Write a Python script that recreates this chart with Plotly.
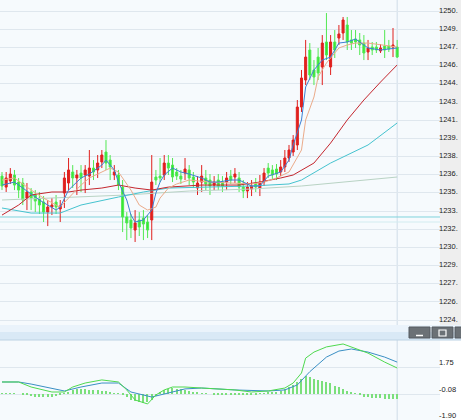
import plotly.graph_objects as go

# candles, left to right
opens = [1236.81, 1235.89, 1236.40, 1236.90, 1236.31, 1236.23, 1234.97, 1235.48, 1235.23, 1234.97,
         1234.64, 1233.80, 1234.22, 1234.64, 1234.06, 1235.39, 1236.23, 1237.15, 1236.65, 1237.06,
         1236.90, 1236.81, 1237.48, 1237.32, 1237.99, 1238.82, 1238.15, 1236.90, 1236.90, 1235.89,
         1233.39, 1233.14, 1232.30, 1233.14, 1233.30, 1232.97, 1233.14, 1236.73, 1236.81, 1236.90,
         1237.90, 1237.73, 1237.15, 1236.81, 1237.06, 1237.32, 1236.73, 1235.81, 1236.31, 1236.65,
         1236.48, 1236.06, 1236.48, 1236.31, 1236.31, 1236.81, 1236.73, 1236.65, 1235.89, 1235.56,
         1235.73, 1236.23, 1235.81, 1236.31, 1237.48, 1237.32, 1237.40, 1237.15, 1237.57, 1238.32,
         1238.82, 1239.41, 1242.58, 1244.84, 1247.35, 1245.68, 1246.76, 1245.93, 1248.02, 1245.93,
         1248.02, 1248.35, 1248.77, 1249.44, 1248.19, 1248.27, 1248.19, 1247.93, 1247.18, 1247.60,
         1247.60, 1247.27, 1247.68, 1247.68, 1247.60, 1247.60]
highs = [1237.15, 1237.15, 1237.48, 1237.32, 1236.65, 1236.65, 1236.23, 1235.81, 1235.64, 1235.48,
         1235.14, 1234.81, 1234.97, 1235.23, 1234.81, 1237.15, 1238.32, 1237.73, 1237.32, 1237.73,
         1237.73, 1238.99, 1238.15, 1238.57, 1238.99, 1239.82, 1238.57, 1237.73, 1237.32, 1236.48,
         1233.80, 1233.64, 1233.97, 1233.80, 1233.97, 1233.55, 1238.57, 1237.32, 1238.32, 1238.57,
         1238.57, 1238.32, 1237.48, 1237.32, 1238.32, 1237.73, 1237.15, 1236.81, 1237.73, 1237.32,
         1236.98, 1236.81, 1236.98, 1236.81, 1237.15, 1237.32, 1237.48, 1237.15, 1236.48, 1236.31,
         1236.48, 1236.65, 1236.90, 1237.48, 1237.90, 1237.73, 1237.82, 1238.15, 1238.99, 1239.41,
         1240.24, 1243.17, 1245.68, 1248.19, 1247.93, 1246.51, 1247.52, 1248.60, 1250.44, 1248.60,
         1249.02, 1249.44, 1250.11, 1250.11, 1249.02, 1249.02, 1248.77, 1248.60, 1248.19, 1248.02,
         1248.02, 1247.85, 1249.02, 1248.19, 1249.19, 1248.19]
lows = [1235.64, 1235.48, 1236.15, 1235.64, 1234.97, 1234.39, 1233.97, 1233.97, 1233.80, 1233.64,
        1232.97, 1232.63, 1233.55, 1233.64, 1232.97, 1234.14, 1235.64, 1235.81, 1235.23, 1235.48,
        1235.39, 1236.06, 1236.48, 1236.65, 1237.48, 1237.32, 1236.48, 1236.48, 1235.64, 1232.13,
        1231.46, 1231.63, 1231.30, 1231.80, 1231.46, 1231.63, 1231.46, 1236.06, 1236.31, 1236.48,
        1236.90, 1236.31, 1236.48, 1236.15, 1236.48, 1236.06, 1235.81, 1235.23, 1235.48, 1235.64,
        1235.23, 1235.64, 1235.64, 1235.48, 1235.64, 1236.15, 1236.23, 1235.48, 1234.97, 1234.97,
        1235.14, 1235.48, 1235.14, 1235.98, 1236.65, 1236.48, 1236.48, 1236.81, 1237.15, 1237.99,
        1238.49, 1238.99, 1242.17, 1244.42, 1244.84, 1244.42, 1244.84, 1244.42, 1246.51, 1245.26,
        1246.68, 1247.77, 1248.19, 1247.35, 1247.35, 1247.52, 1246.93, 1246.51, 1246.51, 1246.93,
        1247.10, 1247.10, 1246.68, 1247.18, 1246.76, 1246.68]
closes = [1235.98, 1236.65, 1236.98, 1236.06, 1235.64, 1234.81, 1235.48, 1234.97, 1234.72, 1234.39,
          1233.80, 1234.22, 1234.39, 1234.22, 1234.31, 1236.65, 1237.32, 1236.65, 1236.90, 1236.65,
          1237.32, 1237.48, 1237.15, 1237.90, 1238.57, 1237.90, 1237.57, 1237.15, 1236.06, 1233.39,
          1232.89, 1232.47, 1232.89, 1232.55, 1232.80, 1232.30, 1236.31, 1236.48, 1236.65, 1237.90,
          1237.48, 1236.73, 1236.81, 1236.56, 1237.40, 1236.65, 1236.31, 1236.23, 1236.81, 1236.15,
          1235.98, 1236.31, 1235.98, 1235.98, 1236.65, 1236.48, 1236.98, 1235.89, 1235.56, 1235.89,
          1235.98, 1235.89, 1236.31, 1237.06, 1237.06, 1236.90, 1236.98, 1237.57, 1238.32, 1238.99,
          1239.82, 1242.58, 1245.01, 1246.76, 1245.26, 1245.09, 1245.43, 1247.93, 1246.93, 1248.02,
          1247.35, 1248.69, 1249.86, 1248.02, 1247.93, 1248.02, 1247.77, 1247.10, 1247.52, 1247.35,
          1247.35, 1247.52, 1247.35, 1247.43, 1247.77, 1246.76]
bars = list(range(len(closes)))

# moving averages (candle index, price)
ma5_x = [0, 3, 9, 12, 13, 14, 16, 19, 21, 24, 25, 27, 28, 30, 31, 32, 34, 36, 37, 38, 39, 41, 43, 45,
         48, 50, 52, 55, 57, 60, 62, 64, 67, 69, 70, 72, 73, 75, 77, 79, 81, 83, 85, 88, 91, 95]
ma5 = [1236.06, 1236.31, 1234.81, 1234.14, 1233.97, 1234.22, 1235.64, 1236.65, 1236.98, 1237.73,
       1238.15, 1237.32, 1236.31, 1234.81, 1233.55, 1232.97, 1233.14, 1233.97, 1235.39, 1236.31,
       1236.90, 1237.48, 1237.15, 1236.98, 1236.65, 1236.31, 1236.31, 1236.48, 1236.48, 1235.98,
       1235.98, 1236.81, 1237.15, 1238.15, 1239.41, 1241.50, 1244.26, 1245.68, 1246.51, 1246.76,
       1247.93, 1248.02, 1248.27, 1247.52, 1247.35, 1247.52]
ma10_x = [0, 3, 7, 10, 13, 14, 16, 19, 21, 24, 26, 28, 31, 33, 35, 37, 38, 40, 42, 45, 50, 55, 60,
          63, 66, 68, 69, 72, 73, 75, 76, 78, 80, 81, 83, 85, 88, 91, 95]
ma10 = [1236.48, 1236.65, 1235.64, 1234.97, 1234.39, 1234.22, 1234.97, 1236.06, 1236.65, 1237.15,
        1237.48, 1237.15, 1235.64, 1234.39, 1233.97, 1234.22, 1234.97, 1235.81, 1236.15, 1236.48,
        1236.31, 1236.23, 1236.15, 1236.31, 1236.65, 1236.98, 1237.15, 1238.99, 1241.50, 1243.42,
        1245.09, 1246.26, 1247.10, 1247.52, 1247.77, 1247.93, 1247.93, 1247.77, 1247.60]
ma20_x = [0, 4, 7, 12, 16, 19, 24, 28, 32, 36, 40, 48, 57, 62, 67, 70, 75, 79, 83, 87, 91, 95]
ma20 = [1233.55, 1234.39, 1235.23, 1235.48, 1235.48, 1235.64, 1235.81, 1236.06, 1235.81, 1235.64,
        1235.89, 1236.06, 1236.06, 1236.31, 1236.65, 1236.90, 1237.90, 1239.57, 1241.50, 1243.17,
        1244.67, 1246.10]
ma60_x = [0, 7, 14, 19, 28, 34, 40, 47, 60, 69, 72, 79, 88, 95]
ma60 = [1234.14, 1233.72, 1233.72, 1234.39, 1235.06, 1235.48, 1235.81, 1235.89, 1235.98, 1236.15,
        1236.48, 1237.90, 1239.41, 1241.25]
ma120_x = [0, 30, 45, 60, 72, 85, 95]
ma120 = [1234.81, 1235.23, 1235.56, 1235.73, 1235.98, 1236.40, 1236.73]

price_labels = ["1250.", "1249.", "1247.", "1246.", "1244.", "1243.", "1241.", "1239.", "1238.",
                "1236.", "1235.", "1233.", "1232.", "1230.", "1229.", "1227.", "1226.", "1224."]
price_ticks = [1250.61, 1249.09, 1247.57, 1246.05, 1244.53, 1243.01, 1241.49, 1239.97, 1238.45,
               1236.93, 1235.41, 1233.89, 1232.37, 1230.85, 1229.33, 1227.81, 1226.29, 1224.77]
level_lines = [1233.39, 1232.97]

# MACD panel
dif_x = [0, 4, 7, 12, 15, 17, 20, 24, 28, 30, 32, 35, 37, 39, 41, 44, 48, 52, 56, 60, 64, 68, 70,
         72, 73, 75, 78, 82, 84, 88, 92, 95]
dif = [0.80, 0.80, 0.46, 0.12, 0.12, 0.46, 0.73, 0.94, 0.80, 0.26, -0.42, -0.69, -0.08, 0.26, 0.46,
       0.46, 0.39, 0.33, 0.26, 0.12, 0.19, 0.39, 0.73, 1.41, 2.42, 2.83, 3.18, 3.38, 3.18, 2.76,
       2.15, 1.75]
dea_x = [0, 4, 7, 12, 15, 19, 24, 28, 31, 36, 39, 44, 48, 56, 64, 68, 71, 74, 78, 81, 84, 88, 92, 95]
dea = [0.80, 0.80, 0.66, 0.39, 0.19, 0.46, 0.73, 0.73, 0.12, -0.22, -0.01, 0.33, 0.39, 0.26, 0.19,
       0.26, 0.60, 1.50, 2.49, 2.90, 3.04, 2.83, 2.49, 2.15]
macd_hist = [0.03, 0.03, 0.02, 0.02, 0.0, -0.05, -0.1, -0.15, -0.2, -0.22,
             -0.25, -0.22, -0.2, -0.15, -0.08, 0.05, 0.15, 0.25, 0.3, 0.3,
             0.3, 0.28, 0.25, 0.25, 0.22, 0.2, 0.12, 0.05, 0.02, -0.1,
             -0.25, -0.4, -0.5, -0.55, -0.6, -0.55, -0.4, -0.15, 0.1, 0.25,
             0.35, 0.38, 0.35, 0.3, 0.25, 0.18, 0.12, 0.08, 0.05, 0.03,
             0.0, -0.03, -0.05, -0.06, -0.05, -0.05, -0.06, -0.08, -0.1, -0.08,
             -0.05, -0.02, 0.02, 0.05, 0.08, 0.12, 0.15, 0.2, 0.3, 0.45,
             0.6, 0.8, 1.0, 1.2, 1.15, 1.0, 0.95, 0.9, 0.8, 0.7,
             0.55, 0.45, 0.35, 0.2, 0.1, 0.02, -0.1, -0.2, -0.25, -0.3,
             -0.3, -0.32, -0.33, -0.35, -0.35, -0.35]
macd_ticks = [1.75, -0.08, -1.90]
macd_labels = ["1.75", "-0.08", "-1.90"]

W, H = 461, 420
plot_right = 440 / W
main_bottom = 1 - 325 / H
macd_top = 80 / H

fig = go.Figure()

fig.add_trace(go.Candlestick(
    x=bars, open=opens, high=highs, low=lows, close=closes,
    increasing=dict(line=dict(color="#e0201e", width=1), fillcolor="#e0201e"),
    decreasing=dict(line=dict(color="#52e852", width=1), fillcolor="#33e833"),
    whiskerwidth=0, hoverinfo="skip",
))

for xs, ys, color in [(ma120_x, ma120, "#b9d3c4"), (ma60_x, ma60, "#45c3cf"),
                      (ma20_x, ma20, "#c4262e"), (ma10_x, ma10, "#ebab8a"),
                      (ma5_x, ma5, "#3d7fd3")]:
    fig.add_trace(go.Scatter(x=xs, y=ys, mode="lines", line=dict(color=color, width=1),
                             hoverinfo="skip"))

fig.add_trace(go.Bar(x=bars, y=macd_hist, width=0.3, marker=dict(color="#7bdf7b", line_width=0),
                     xaxis="x2", yaxis="y2", hoverinfo="skip"))
fig.add_trace(go.Scatter(x=dea_x, y=dea, mode="lines", line=dict(color="#3a8fc4", width=1),
                         xaxis="x2", yaxis="y2", hoverinfo="skip"))
fig.add_trace(go.Scatter(x=dif_x, y=dif, mode="lines", line=dict(color="#4fd94f", width=1),
                         xaxis="x2", yaxis="y2", hoverinfo="skip"))

tick_font = dict(family="Liberation Sans", size=7.5, color="#222222")
grid_col = "#dfe7ee"

fig.update_layout(
    width=W, height=H, margin=dict(l=0, r=0, t=0, b=0),
    paper_bgcolor="#ffffff", plot_bgcolor="#f6fafd",
    showlegend=False, bargap=0,
    xaxis=dict(domain=[0, plot_right], range=[-0.48, 105.3], showgrid=False, zeroline=False,
               showticklabels=False, rangeslider=dict(visible=False), anchor="y"),
    yaxis=dict(domain=[main_bottom, 1], range=[1224.36, 1251.53], side="right", anchor="x",
               tickvals=[v + 0.08 for v in price_ticks], ticktext=price_labels,
               showgrid=False, zeroline=False, ticks="", tickfont=tick_font,
               ticklabelstandoff=-2, ticklabeloverflow="allow",
               minor=dict(tickmode="array", tickvals=price_ticks, showgrid=True,
                          gridcolor=grid_col, gridwidth=1, ticks="")),
    xaxis2=dict(domain=[0, plot_right], range=[-0.48, 105.3], showgrid=False, zeroline=False,
                showticklabels=False, anchor="y2"),
    yaxis2=dict(domain=[0, macd_top], range=[-1.78, 3.65], side="right", anchor="x2",
                tickvals=[v + 0.41 for v in macd_ticks], ticktext=macd_labels,
                showgrid=False, zeroline=False, ticks="", tickfont=tick_font,
                ticklabelstandoff=-2, ticklabeloverflow="allow",
                minor=dict(tickmode="array", tickvals=macd_ticks, showgrid=True,
                           gridcolor=grid_col, gridwidth=1, ticks="")),
)

shapes = [
    # grey price-label column
    dict(type="rect", xref="paper", yref="paper", x0=plot_right, x1=1, y0=main_bottom, y1=1,
         fillcolor="#eeeeee", line_width=0, layer="below"),
    # bar between the two panels
    dict(type="rect", xref="paper", yref="paper", x0=0, x1=1, y0=macd_top, y1=main_bottom,
         fillcolor="#d9e9f6", line_width=0),
    dict(type="rect", xref="paper", yref="paper", x0=0, x1=1, y0=1 - 332 / H, y1=main_bottom,
         fillcolor="#eaf3fb", line_width=0),
    dict(type="line", xref="paper", yref="paper", x0=0, x1=1, y0=macd_top, y1=macd_top,
         line=dict(color="#bcd2e4", width=1)),
    # current bar marker
    dict(type="line", xref="x", yref="y domain", x0=bars[-1], x1=bars[-1], y0=0, y1=1,
         line=dict(color="#cfdce8", width=1), layer="below"),
    dict(type="line", xref="x2", yref="y2 domain", x0=bars[-1], x1=bars[-1], y0=0, y1=1,
         line=dict(color="#cfdce8", width=1), layer="below"),
]
for lv, col in zip(level_lines, ["#7fd3dc", "#d2ecf0"]):
    shapes.append(dict(type="line", xref="paper", yref="y", x0=0, x1=plot_right, y0=lv, y1=lv,
                       line=dict(color=col, width=1), layer="below"))

# window buttons in the bar
for x0 in [409, 432, 455]:
    shapes.append(dict(type="rect", xref="paper", yref="paper", x0=x0 / W, x1=(x0 + 21) / W,
                       y0=1 - 338 / H, y1=1 - 327 / H, fillcolor="#6b7176",
                       line=dict(color="#555b60", width=1)))
shapes.append(dict(type="line", xref="paper", yref="paper", x0=416 / W, x1=423 / W,
                   y0=1 - 335.5 / H, y1=1 - 335.5 / H, line=dict(color="#ffffff", width=1.5)))
shapes.append(dict(type="rect", xref="paper", yref="paper", x0=439 / W, x1=446 / W,
                   y0=1 - 336 / H, y1=1 - 330 / H, line=dict(color="#ffffff", width=1.2)))
fig.update_layout(shapes=shapes)

fig.write_html("out.html", config={"displayModeBar": False},
               post_script="document.body.style.margin='0';")
